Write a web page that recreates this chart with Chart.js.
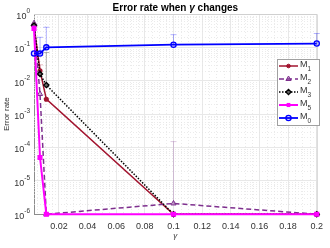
<!DOCTYPE html>
<html>
<head>
<meta charset="utf-8">
<script src="https://cdn.jsdelivr.net/npm/chart.js@4.4.0/dist/chart.umd.min.js"></script>
<style>
  html, body { margin: 0; padding: 0; background: #fff; }
  #wrap { width: 330px; height: 248px; }
</style>
</head>
<body>
<div id="wrap"><canvas id="c"></canvas></div>
<script>
// datos
const gammas = [0.0026, 0.0068, 0.0112, 0.1, 0.2];
const m1 = [0.45, 0.02, 0.0028, 1e-6, 1e-6];
const m2 = [0.53, 0.004, 1e-6, 2.1e-6, 1e-6];
const m3 = [0.45, 0.016, 0.0074, 1e-6, 1e-6];
const m5 = [0.37, 5e-5, 1e-6, 1e-6, 1e-6];
const m0 = [0.066, 0.065, 0.1, 0.12, 0.13];

// limite superior de las barras de error
const m1Up = [null, 0.03, null, null, null];
const m2Up = [null, null, null, 1.5e-4, null];
const m3Up = [null, null, 0.07, null, null];
const m0Up = [null, 0.2, 0.4, 0.24, 0.26];

const xTicks = [0.02, 0.04, 0.06, 0.08, 0.1, 0.12, 0.14, 0.16, 0.18, 0.2];
const yTicks = [1e-6, 1e-5, 1e-4, 1e-3, 1e-2, 1e-1, 1];
const yExp = ['-6', '-5', '-4', '-3', '-2', '-1', '0'];

const legendNames = ['M', 'M', 'M', 'M', 'M'];
const legendSubs = ['1', '2', '3', '5', '0'];

const FONT = "'Liberation Sans', Arial, sans-serif";
const XMIN = 0.0026, XMAX = 0.2;

const pts = (ys) => ys.map((y, i) => ({ x: gammas[i], y: y }));

const datasets = [
  { label: 'M1', data: pts(m1), borderColor: '#a2142f', backgroundColor: '#a2142f', borderWidth: 1.5,
    pointStyle: 'circle', pointRadius: 1.8, order: 4, up: m1Up, errColor: 'rgba(162,20,47,0.3)' },
  { label: 'M2', data: pts(m2), borderColor: '#7e2f8e', backgroundColor: 'rgba(126,47,142,0.35)', borderWidth: 1.5,
    borderDash: [5, 3], pointStyle: 'triangle', pointRadius: 3, pointBorderWidth: 1, order: 3, up: m2Up, errColor: 'rgba(126,47,142,0.25)' },
  { label: 'M3', data: pts(m3), borderColor: '#000', backgroundColor: '#666', borderWidth: 1.5,
    borderDash: [1.5, 1.5], pointStyle: 'rectRot', pointRadius: 2.6, pointBorderWidth: 1.3, order: 2, up: m3Up, errColor: 'rgba(0,0,0,0.3)' },
  { label: 'M5', data: pts(m5), borderColor: '#ff00ff', backgroundColor: '#ff00ff', borderWidth: 2,
    pointStyle: 'rect', pointRadius: 2.2, order: 1, up: [], errColor: 'rgba(255,0,255,0.3)' },
  { label: 'M0', data: pts(m0), borderColor: '#0000ff', backgroundColor: 'rgba(0,0,255,0.15)', borderWidth: 1.8,
    pointStyle: 'circle', pointRadius: 2.6, pointBorderWidth: 1.3, order: 0, up: m0Up, errColor: 'rgba(0,0,255,0.3)' }
];
datasets.forEach(d => { d.fill = false; d.tension = 0; d.clip = 8; d.pointBorderColor = d.borderColor; d.pointBackgroundColor = d.backgroundColor; });

// rejilla menor punteada, caja y barras de error
const extras = {
  id: 'extras',
  beforeDatasetsDraw(chart) {
    const { ctx, chartArea: a, scales: { x, y } } = chart;
    ctx.save();
    ctx.strokeStyle = '#e2e2e2';
    ctx.lineWidth = 0.7;
    ctx.setLineDash([1, 2]);
    for (let e = -6; e < 0; e++) {
      for (let k = 2; k <= 9; k++) {
        const py = Math.round(y.getPixelForValue(k * Math.pow(10, e))) + 0.5;
        ctx.beginPath(); ctx.moveTo(a.left, py); ctx.lineTo(a.right, py); ctx.stroke();
      }
    }
    for (let v = 0.005; v < XMAX; v += 0.005) {
      if (v < XMIN || Math.abs(v / 0.02 - Math.round(v / 0.02)) < 1e-6) continue;
      const px = Math.round(x.getPixelForValue(v)) + 0.5;
      ctx.beginPath(); ctx.moveTo(px, a.top); ctx.lineTo(px, a.bottom); ctx.stroke();
    }
    ctx.setLineDash([]);
    ctx.strokeStyle = '#d0d0d0';
    ctx.lineWidth = 1;
    ctx.beginPath();
    ctx.moveTo(a.left, a.top + 0.5); ctx.lineTo(a.right + 0.5, a.top + 0.5); ctx.lineTo(a.right + 0.5, a.bottom);
    ctx.stroke();
    // barras de error (solo la parte superior)
    chart.data.datasets.forEach(ds => {
      ctx.strokeStyle = ds.errColor;
      ctx.lineWidth = 1;
      ds.up.forEach((u, i) => {
        if (u == null) return;
        const px = x.getPixelForValue(gammas[i]);
        const p0 = y.getPixelForValue(ds.data[i].y);
        const p1 = y.getPixelForValue(u);
        ctx.beginPath();
        ctx.moveTo(px, p0); ctx.lineTo(px, p1);
        ctx.moveTo(px - 3, p1); ctx.lineTo(px + 3, p1);
        ctx.stroke();
      });
    });
    ctx.restore();
  },
  afterDraw(chart) {
    const { ctx, chartArea: a, scales: { y } } = chart;
    ctx.save();
    // etiquetas del eje Y con exponente
    ctx.fillStyle = '#333';
    ctx.textBaseline = 'alphabetic';
    yTicks.forEach((v, i) => {
      const py = y.getPixelForValue(v);
      ctx.font = '6.5px ' + FONT;
      const ew = ctx.measureText(yExp[i]).width;
      ctx.textAlign = 'left';
      const xr = a.left - 4;
      ctx.fillText(yExp[i], xr - ew, py - 1);
      ctx.font = '9px ' + FONT;
      ctx.textAlign = 'right';
      ctx.fillText('10', xr - ew, py + 5);
    });
    // titulo del eje X
    ctx.font = 'italic 8px ' + FONT;
    ctx.textAlign = 'center';
    ctx.textBaseline = 'middle';
    ctx.fillText('γ', (a.left + a.right) / 2, 236);
    // titulo del eje Y
    ctx.font = '8px ' + FONT;
    ctx.fillStyle = '#333';
    ctx.translate(7, (a.top + a.bottom) / 2);
    ctx.rotate(-Math.PI / 2);
    ctx.fillText('Error rate', 0, 0);
    ctx.setTransform(1, 0, 0, 1, 0, 0);
    // titulo
    const parts = [['Error rate when ', 'bold 10px ' + FONT], ['γ', 'italic bold 10px ' + FONT], [' changes', 'bold 10px ' + FONT]];
    let tw = 0;
    parts.forEach(p => { ctx.font = p[1]; tw += ctx.measureText(p[0]).width; });
    let tx = (a.left + a.right) / 2 - tw / 2;
    ctx.fillStyle = '#000';
    ctx.textAlign = 'left';
    ctx.textBaseline = 'middle';
    parts.forEach(p => { ctx.font = p[1]; ctx.fillText(p[0], tx, 8); tx += ctx.measureText(p[0]).width; });
    // leyenda
    const lx = 277, ly = 59, lw = 42, lh = 66;
    ctx.fillStyle = '#fff';
    ctx.fillRect(lx, ly, lw, lh);
    ctx.strokeStyle = '#a0a0a0';
    ctx.lineWidth = 1;
    ctx.strokeRect(lx + 0.5, ly + 0.5, lw, lh);
    chart.data.datasets.forEach((ds, k) => {
      const yy = ly + 7 + k * 13;
      ctx.strokeStyle = ds.borderColor;
      ctx.lineWidth = ds.borderWidth;
      ctx.setLineDash(ds.borderDash || []);
      ctx.beginPath(); ctx.moveTo(lx + 2, yy); ctx.lineTo(lx + 21, yy); ctx.stroke();
      ctx.setLineDash([]);
      ctx.fillStyle = ds.pointBackgroundColor;
      ctx.strokeStyle = ds.pointBorderColor;
      ctx.lineWidth = ds.pointBorderWidth || 1;
      Chart.helpers.drawPoint(ctx, { pointStyle: ds.pointStyle, radius: ds.pointRadius, borderWidth: ds.pointBorderWidth || 1, rotation: 0 }, lx + 11.5, yy);
      ctx.fillStyle = '#333';
      ctx.textAlign = 'left';
      ctx.textBaseline = 'middle';
      ctx.font = '9px ' + FONT;
      ctx.fillText(legendNames[k], lx + 23, yy - 1);
      const mw = ctx.measureText(legendNames[k]).width;
      ctx.font = '6.5px ' + FONT;
      ctx.fillText(legendSubs[k], lx + 23 + mw, yy + 3);
    });
    ctx.restore();
  }
};

new Chart(document.getElementById('c'), {
  type: 'line',
  data: { datasets: datasets },
  plugins: [extras],
  options: {
    responsive: true,
    maintainAspectRatio: false,
    animation: false,
    events: [],
    layout: { padding: { left: 34, top: 14, right: 12, bottom: 9 } },
    plugins: { legend: { display: false }, title: { display: false }, tooltip: { enabled: false } },
    scales: {
      x: {
        type: 'linear', min: XMIN, max: XMAX,
        afterBuildTicks: (s) => { s.ticks = xTicks.map(v => ({ value: v })); },
        ticks: {
          font: { size: 9, family: FONT }, color: '#333', padding: 7, maxRotation: 0, autoSkip: false,
          callback: (v) => String(parseFloat(Number(v).toFixed(2)))
        },
        grid: { color: '#e8e8e8', drawTicks: false },
        border: { color: '#8c8c8c' }
      },
      y: {
        type: 'logarithmic', min: 1e-6, max: 1,
        afterBuildTicks: (s) => { s.ticks = yTicks.map(v => ({ value: v })); },
        ticks: { display: false },
        grid: { color: '#e8e8e8', drawTicks: false },
        border: { color: '#8c8c8c' }
      }
    }
  }
});
</script>
</body>
</html>
